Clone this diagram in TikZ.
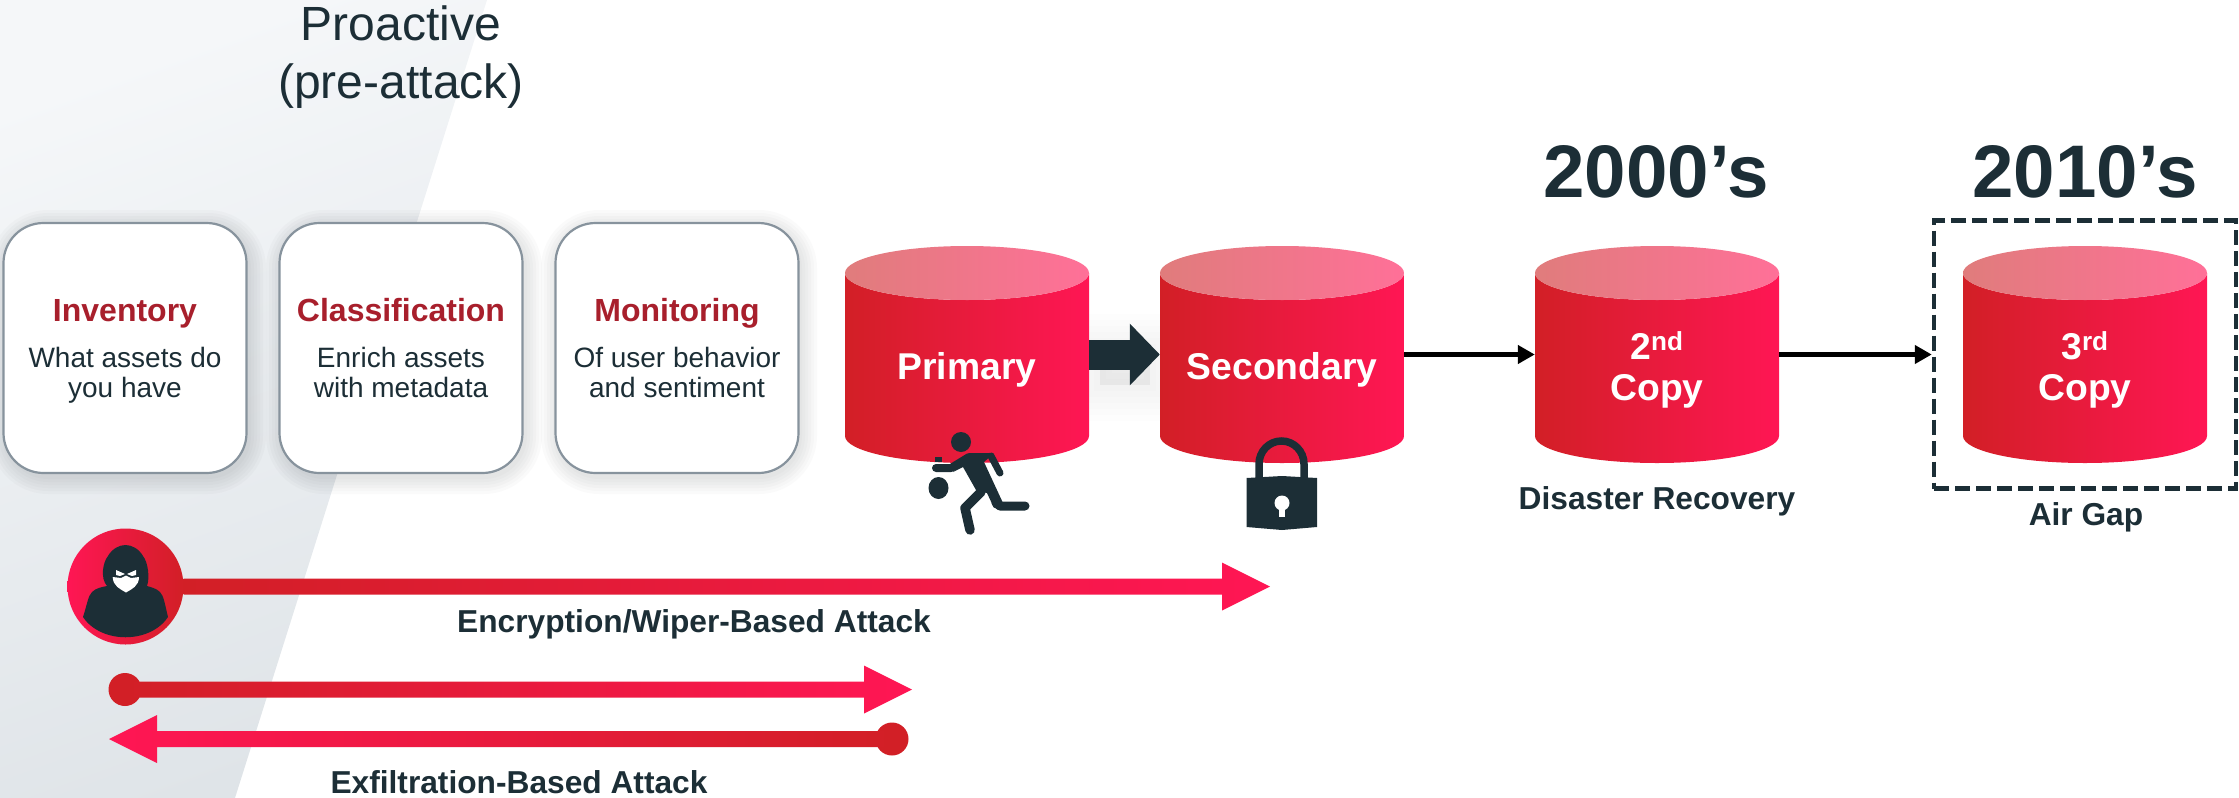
\documentclass[tikz,border=0pt]{standalone}
\usepackage{fontspec}
\setmainfont{Liberation Sans}
\usepackage{tikz}
\usetikzlibrary{arrows.meta,calc,positioning}

\definecolor{inkdark}{HTML}{1C2E36}
\definecolor{dbred}{HTML}{D21F26}
\definecolor{dbpink}{HTML}{FF1654}
\definecolor{lidred}{HTML}{E07C7C}
\definecolor{lidpink}{HTML}{FF7098}
\definecolor{cardedge}{HTML}{87939D}
\definecolor{cardhead}{HTML}{A81F2C}
\definecolor{bglight}{HTML}{F5F7F9}
\definecolor{bgdark}{HTML}{DFE4E8}

\tikzset{
  card/.style={draw=cardedge,line width=2.2pt,fill=white,rounded corners=40pt,
    minimum width=243pt,minimum height=250pt,align=center,text=inkdark,inner sep=0pt,
    font=\fontsize{28}{30.7}\selectfont,
    execute at end node=\rule[-8pt]{0pt}{8pt}},
  dbcyl/.style={minimum width=244pt,minimum height=217pt,inner sep=0pt,align=center,text=white,
    font=\fontsize{37.3}{41}\selectfont\bfseries,
    path picture={
      \shade[left color=dbred,right color=dbpink]
        ([yshift=-27pt]path picture bounding box.north west) --
        ([yshift=27pt]path picture bounding box.south west)
        arc[start angle=180,end angle=360,x radius=122pt,y radius=27pt] --
        ([yshift=-27pt]path picture bounding box.north east)
        arc[start angle=0,end angle=-180,x radius=122pt,y radius=27pt] -- cycle;
      \shade[left color=lidred,right color=lidpink]
        ([yshift=-27pt]path picture bounding box.north) ellipse[x radius=122pt,y radius=27pt];
    }},
  thinarrow/.style={draw=black,line width=4.5pt,-{Triangle[length=17pt,width=18pt]}},
  headline/.style={anchor=base,text=inkdark,font=\fontsize{74.5}{78}\selectfont\bfseries},
  caption/.style={anchor=base,text=inkdark,font=\fontsize{31.7}{36}\selectfont\bfseries},
  dotend/.style={circle,fill=dbred,minimum size=33pt,inner sep=0pt},
  redtopink/.style={left color=dbred,right color=dbpink},
  pinktored/.style={left color=dbpink,right color=dbred}
}

\newcommand{\cardtitle}[1]{\rule{0pt}{31pt}{\fontsize{32}{36}\selectfont\bfseries\color{cardhead}#1}}
\newcommand{\dbtop}{\rule{0pt}{58pt}}
\newcommand{\attackarrow}[4]{%
  \shade[#1] ($(#2)+(0,-8)$) -- ($(#3)+(#4,-8)$) -- ($(#3)+(#4,-24)$) -- (#3) --
    ($(#3)+(#4,24)$) -- ($(#3)+(#4,8)$) -- ($(#2)+(0,8)$) -- cycle;}

\begin{document}
\begin{tikzpicture}[x=1pt,y=-1pt,node distance=276pt,on grid]
  \useasboundingbox (0,0) rectangle (2239,798);

  % shaded band behind the proactive steps
  \shade[top color=bglight,bottom color=bgdark,shading angle=20]
    (0,0) -- (487,0) -- (235,798) -- (0,798) -- cycle;

  \node[text=inkdark,align=center,font=\fontsize{48}{58}\selectfont] (proactive) at (401,57) {Proactive\\(pre-attack)};

  % soft shadows
  \foreach \cardx in {128,404,679}
    \foreach \halo in {6,12,...,36}
      \draw[black!60!cardedge,opacity=.022,line width=\halo pt,rounded corners=40pt]
        (\cardx-120,228) rectangle (\cardx+120,476);
  \foreach \halo in {12,24,...,72}
    \fill[black,opacity=.006,draw=black,draw opacity=.006,line width=\halo pt] (1100,350) rectangle (1150,385);

  % proactive steps
  \node[card] (inventory) at (125,348) {\cardtitle{Inventory}\\[15pt]What assets do\\you have};
  \node[card] (classification) [right=of inventory] {\cardtitle{Classification}\\[15pt]Enrich assets\\with metadata};
  \node[card] (monitoring) [right=of classification] {\cardtitle{Monitoring}\\[15pt]Of user behavior\\and sentiment};

  % copies
  \node[dbcyl] (primary) at (967,354.5) {\dbtop Primary};
  \node[dbcyl] (secondary) [right=315pt of primary] {\dbtop Secondary};
  \node[dbcyl] (copytwo) [right=375pt of secondary] {\dbtop 2\textsuperscript{nd}\\Copy};
  \node[dbcyl] (copythree) [right=428pt of copytwo] {\dbtop 3\textsuperscript{rd}\\Copy};

  \node[draw=inkdark,line width=4.5pt,dash pattern=on 15pt off 6pt,minimum width=302pt,minimum height=268pt] (airgapbox) at (copythree) {};

  \draw[draw=inkdark,line width=30pt,-{Triangle[length=30pt,width=60pt]}] (primary) -- (secondary);
  \draw[thinarrow] (secondary) -- (copytwo);
  \draw[thinarrow] (copytwo) -- (airgapbox);

  \node[headline] (decadeone) at (1656,197) {2000’s};
  \node[headline] (decadetwo) at (2085,197) {2010’s};
  \node[caption] (disaster) at (1657,509) {Disaster Recovery};
  \node[caption] (airgap) at (2086,525) {Air Gap};

  % runner
  \begin{scope}[inkdark,line cap=round,line join=round]
    \fill (961,442) circle (10);
    \fill (969,453) -- (994,453) -- (984,462) -- (1003,503) -- (994,508) -- (987,493) -- (976,490) -- (963,467) -- (953,472) -- cycle;
    \draw[line width=7pt] (991,456) -- (1000,473);
    \draw[line width=8pt] (969,457) -- (951,468) -- (936,468);
    \draw[line width=9pt] (996,503) -- (1000,506) -- (1025,506);
    \draw[line width=9.5pt] (981,492) -- (965,508) -- (970,530);
    \fill (938.5,488) ellipse[x radius=10,y radius=11];
    \fill (935,457) rectangle (942,462);
  \end{scope}

  % lock
  \draw[inkdark,line width=7.5pt] (1259,480) -- (1259,464) arc[start angle=180,end angle=360,x radius=22.5,y radius=23] -- (1304,480);
  \fill[inkdark] (1246.5,478) -- (1282,476) -- (1317,478) -- (1317,527) -- (1282,530) -- (1246.5,527) -- cycle;
  \fill[white] (1282,503) circle (7.5);
  \fill[white] (1279,505) rectangle (1285,517);

  % attack paths
  \node[circle,minimum size=116pt,inner sep=0pt,pinktored] (attacker) at (125.5,586.5) {};
  \coordinate (encend) at (1270,586.5);
  \attackarrow{redtopink}{attacker.east}{encend}{-48}
  \node[caption] (enclabel) at (694,632) {Encryption/Wiper-Based Attack};

  \node[dotend] (exfilout) at (125,689.5) {};
  \coordinate (exfiloutend) at (912,689.5);
  \attackarrow{redtopink}{exfilout.center}{exfiloutend}{-48}
  \node[dotend] (exfilin) at (892,739) {};
  \coordinate (exfilinend) at (109,739);
  \attackarrow{pinktored}{exfilin.center}{exfilinend}{48}
  \node[caption] (exfillabel) at (519,793) {Exfiltration-Based Attack};

  % hooded figure
  \begin{scope}[inkdark]
    \fill (83,617) .. controls (87,605) and (88,596) .. (92,592) .. controls (96,588) and (102,587) .. (107,586)
      .. controls (100,578) and (103,562) .. (108,556) .. controls (112,549) and (119,545) .. (125.5,545)
      .. controls (132,545) and (139,549) .. (143,556) .. controls (148,562) and (150,578) .. (147,586)
      .. controls (150,587) and (156,588) .. (160,592) .. controls (164,596) and (165,605) .. (168,617)
      .. controls (150,644) and (101,644) .. (83,617) -- cycle;
    \fill[white] (112.7,577) -- (121,578) -- (126,575.5) -- (131,578) -- (139,577)
      .. controls (139,586) and (132,589) .. (126,592.5) .. controls (120,589) and (113,586) .. (112.7,577) -- cycle;
    \fill[white] (116,570) -- (125,574) -- (120,576) -- (116,575) -- cycle;
    \fill[white] (136,570) -- (127,574) -- (132,576) -- (136,575) -- cycle;
  \end{scope}
\end{tikzpicture}
\end{document}
